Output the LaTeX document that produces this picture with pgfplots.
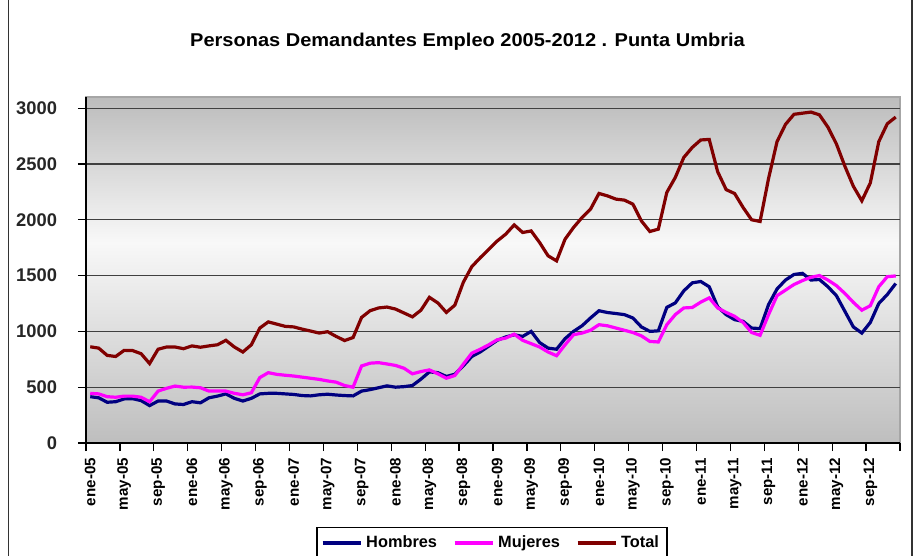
\documentclass[border=0pt]{standalone}
\usepackage{fontspec}
\setmainfont{Liberation Sans}
\usepackage{graphicx}
\usepackage{pgfplots}
\pgfplotsset{compat=1.18}
\usepackage{pgfplotstable}
\definecolor{hombres}{RGB}{0,0,128}
\definecolor{mujeres}{RGB}{255,0,255}
\definecolor{total}{RGB}{128,0,0}
\definecolor{bgbot}{RGB}{190,190,190}
\definecolor{bgmid}{RGB}{248,248,248}
\definecolor{bgtop}{RGB}{188,188,188}
\pgfdeclareverticalshading{excelbg}{100bp}{color(0bp)=(bgbot); color(25bp)=(bgbot); color(54bp)=(bgmid); color(75bp)=(bgtop); color(100bp)=(bgtop)}

\pgfplotstableread{
m H M T
0 415 445 862
1 405 440 850
2 365 415 785
3 370 410 775
4 395 420 830
5 397 420 828
6 380 410 800
7 335 370 712
8 376 465 840
9 376 490 860
10 350 510 860
11 345 500 845
12 370 501 870
13 360 495 858
14 405 465 870
15 420 465 880
16 440 465 920
17 400 445 860
18 376 432 815
19 400 450 880
20 440 586 1030
21 445 630 1085
22 445 615 1065
23 440 607 1045
24 435 600 1040
25 425 590 1020
26 422 580 1003
27 432 570 985
28 437 556 997
29 430 545 955
30 425 515 918
31 422 500 945
32 465 690 1125
33 478 715 1185
34 495 720 1210
35 512 708 1218
36 500 695 1200
37 505 670 1165
38 515 620 1130
39 572 640 1190
40 637 655 1305
41 630 620 1255
42 596 580 1170
43 616 605 1235
44 691 706 1440
45 775 805 1580
46 816 840 1660
47 868 880 1735
48 920 925 1810
49 950 940 1871
50 970 975 1954
51 955 920 1886
52 1000 890 1900
53 900 860 1796
54 850 815 1677
55 840 782 1632
56 935 880 1826
57 1000 970 1931
58 1050 985 2020
59 1120 1010 2095
60 1185 1060 2236
61 1169 1050 2214
62 1160 1030 2185
63 1150 1010 2176
64 1120 990 2140
65 1040 960 1990
66 1000 910 1895
67 1005 905 1916
68 1215 1060 2245
69 1255 1150 2379
70 1363 1210 2558
71 1435 1214 2648
72 1447 1262 2715
73 1400 1300 2720
74 1220 1210 2430
75 1150 1170 2270
76 1105 1135 2235
77 1090 1080 2110
78 1030 990 2000
79 1025 965 1985
80 1240 1150 2370
81 1380 1320 2700
82 1460 1370 2855
83 1510 1420 2945
84 1520 1455 2955
85 1460 1485 2965
86 1465 1500 2940
87 1400 1460 2830
88 1320 1410 2680
89 1180 1340 2480
90 1040 1260 2300
91 985 1190 2170
92 1080 1230 2330
93 1250 1400 2700
94 1330 1490 2860
95 1429 1497 2920
}\datatable

\begin{document}
\begin{tikzpicture}
\useasboundingbox (0,0) rectangle (457.5bp,278bp);
\clip (0,0) rectangle (457.5bp,278bp);
\fill[white] (0,0) rectangle (457.5bp,278bp);
\draw[black!80, line width=0.8bp] (4.2bp,0) -- (4.2bp,278bp);
\draw[black!80, line width=0.8bp] (456bp,0) -- (456bp,278bp);
\node[anchor=base, font=\bfseries\fontsize{9.3}{11}\selectfont] at (233.75bp,254.6bp) {\scalebox{1.08}[1]{Personas Demandantes Empleo 2005-2012 . Punta Umbria}};
\begin{axis}[
  at={(43bp,56.5bp)}, anchor=south west,
  width=407bp, height=173bp, scale only axis,
  xmin=-0.5, xmax=95.5, ymin=0, ymax=3100,
  axis x line*=bottom, axis y line*=left,
  axis line style={black, line width=0.6bp},
  axis background/.style={shading=excelbg, draw=gray!70, line width=0.8bp},
  ytick={0,500,...,3000},
  /pgf/number format/.cd, 1000 sep={}, assume math mode=true, /pgfplots/.cd,
  ymajorgrids, grid style={black!75, line width=0.6bp},
  tick align=outside,
  major tick length=4bp,
  tick style={black, line width=0.6bp},
  yticklabel shift=7bp,
  yticklabel style={font=\bfseries\fontsize{9.2}{10}\selectfont, text=black!85},
  xtick={-0.5,3.5,...,95.5}, xticklabels={},
  extra x ticks={0,4,...,92},
  extra x tick labels={ene-05,may-05,sep-05,ene-06,may-06,sep-06,ene-07,may-07,sep-07,ene-08,may-08,sep-08,ene-09,may-09,sep-09,ene-10,may-10,sep-10,ene-11,may-11,sep-11,ene-12,may-12,sep-12},
  extra x tick style={major tick length=0pt, grid=none},
  xticklabel shift=4bp,
  xticklabel style={rotate=90, anchor=east, font=\bfseries\fontsize{7.6}{9}\selectfont},
  legend columns=3,
  legend style={at={(0.4988,-0.2428)}, anchor=north, draw=black, line width=0.6bp,
    font=\bfseries\fontsize{8.2}{10}\selectfont, inner sep=2bp,
    /tikz/every even column/.append style={column sep=6bp}},
  legend image code/.code={\draw[#1] (0bp,0bp) -- (19bp,0bp);},
  no markers,
]
\addplot[hombres, line width=1.6bp] table[x=m, y=H] {\datatable};
\addlegendentry{Hombres}
\addplot[mujeres, line width=1.6bp] table[x=m, y=M] {\datatable};
\addlegendentry{Mujeres}
\addplot[total, line width=1.6bp] table[x=m, y=T] {\datatable};
\addlegendentry{Total}
\end{axis}
\end{tikzpicture}
\end{document}
